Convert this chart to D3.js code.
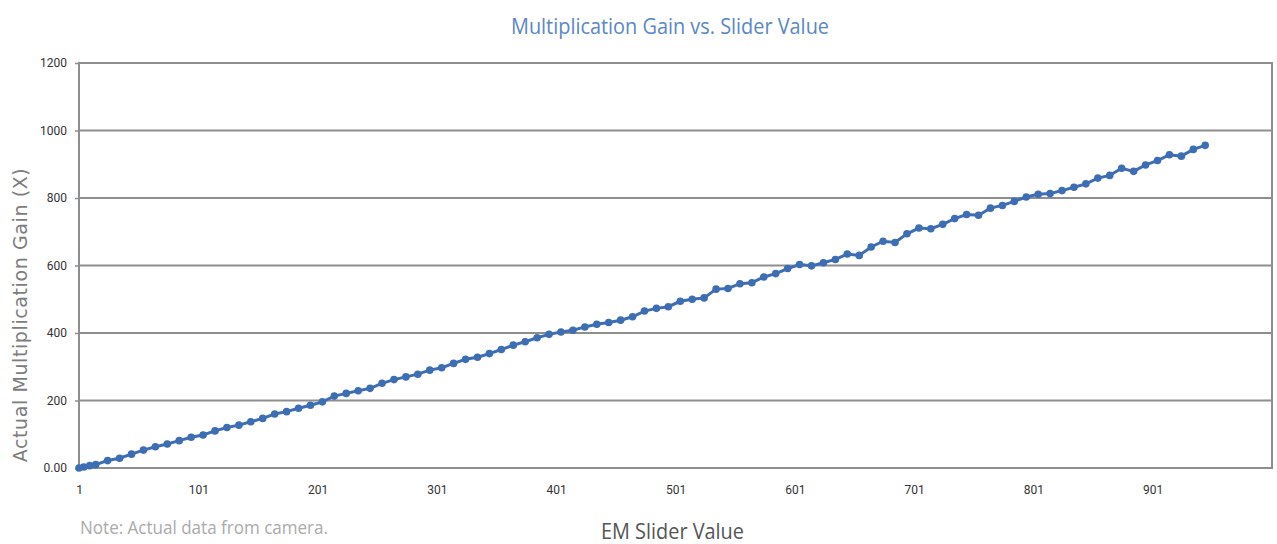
<!DOCTYPE html>
<html>
<head>
<meta charset="utf-8">
<script src="https://cdn.jsdelivr.net/npm/d3@7"></script>
<style>
  body { margin: 0; background: #fff; }
  .grid line { stroke: #8e8e8e; stroke-width: 2; }
  .axis text { font-family: 'Liberation Sans Narrow', 'Roboto', sans-serif; font-size: 12px; fill: #333; }
  .axis path { display: none; }
  .axis line { stroke: #8e8e8e; stroke-width: 1.5; }
</style>
</head>
<body>
<div id="chart"></div>
<script>
// EM slider setting and measured gain
const sliderValues = [1, 5, 10, 15, 25, 35, 45, 55, 65, 75, 85, 95, 105, 115, 125, 135, 145, 155, 165, 175,
  185, 195, 205, 215, 225, 235, 245, 255, 265, 275, 285, 295, 305, 315, 325, 335, 345, 355, 365, 375,
  385, 395, 405, 415, 425, 435, 445, 455, 465, 475, 485, 495, 505, 515, 525, 535, 545, 555, 565, 575,
  585, 595, 605, 615, 625, 635, 645, 655, 665, 675, 685, 695, 705, 715, 725, 735, 745, 755, 765, 775,
  785, 795, 805, 815, 825, 835, 845, 855, 865, 875, 885, 895, 905, 915, 925, 935, 945];
const gainValues = [0, 3, 7, 10, 22, 29, 41, 53, 63, 71, 81, 91, 98, 110, 120, 127, 137, 147, 160, 167,
  177, 186, 196, 213, 221, 229, 236, 251, 262, 270, 278, 290, 297, 310, 322, 328, 339, 351, 364, 374,
  386, 396, 403, 408, 418, 426, 431, 438, 448, 465, 473, 478, 494, 500, 504, 530, 532, 546, 549, 566,
  576, 591, 603, 599, 608, 618, 634, 630, 655, 672, 668, 694, 711, 709, 722, 739, 751, 749, 770, 778,
  790, 803, 811, 813, 822, 832, 842, 859, 867, 888, 879, 898, 911, 928, 924, 944, 956];

const xTicks = [1, 101, 201, 301, 401, 501, 601, 701, 801, 901];
const yTicks = [0, 200, 400, 600, 800, 1000, 1200];

const margin = {top: 63, right: 5, bottom: 76, left: 79},
      width = 1277 - margin.left - margin.right,
      height = 544 - margin.top - margin.bottom;

const data = sliderValues.map((s, i) => ({s, v: gainValues[i]}));

const svg = d3.select('#chart').append('svg')
    .attr('width', 1277)
    .attr('height', 544);

const g = svg.append('g')
    .attr('transform', `translate(${margin.left}, ${margin.top})`);

const x = d3.scaleLinear()
    .domain([1, 1001])
    .range([0, width]);

const y = d3.scaleLinear()
    .domain([0, 1200])
    .range([height, 0]);

// gridlines
g.append('g')
    .attr('class', 'grid')
  .selectAll('line')
  .data(yTicks)
  .enter().append('line')
    .attr('x1', 0)
    .attr('x2', width)
    .attr('y1', d => y(d))
    .attr('y2', d => y(d));

// frame
g.append('rect')
    .attr('width', width)
    .attr('height', height)
    .attr('fill', 'none')
    .attr('stroke', '#8e8e8e')
    .attr('stroke-width', 2);

g.append('g')
    .attr('class', 'axis axis-y')
    .call(d3.axisLeft(y)
        .tickValues(yTicks)
        .tickSize(4)
        .tickPadding(8)
        .tickFormat(d => d === 0 ? '0.00' : d));

g.append('g')
    .attr('class', 'axis axis-x')
    .attr('transform', `translate(0,${height})`)
    .call(d3.axisBottom(x)
        .tickValues(xTicks)
        .tickSize(0)
        .tickPadding(17));

// series line + markers
const line = d3.line()
    .x(d => x(d.s))
    .y(d => y(d.v));

g.append('path')
    .datum(data)
    .attr('fill', 'none')
    .attr('stroke', '#3d6eb4')
    .attr('stroke-width', 3)
    .attr('d', line);

g.append('g')
  .selectAll('circle')
  .data(data)
  .enter().append('circle')
    .attr('cx', d => x(d.s))
    .attr('cy', d => y(d.v))
    .attr('r', 3.8)
    .attr('fill', '#3d6eb4');

// titles (condensed fonts are not installed, so squeeze to the measured width)
svg.append('text')
    .attr('x', 511)
    .attr('y', 34)
    .attr('textLength', 318)
    .attr('lengthAdjust', 'spacingAndGlyphs')
    .style('font-family', "'Open Sans', sans-serif")
    .style('font-size', '22px')
    .attr('fill', '#5a87c3')
    .text('Multiplication Gain vs. Slider Value');

svg.append('text')
    .attr('transform', 'translate(27,315) rotate(-90)')
    .attr('text-anchor', 'middle')
    .style('font-family', "'DejaVu Sans', sans-serif")
    .style('font-size', '19px')
    .style('letter-spacing', '0.6px')
    .attr('fill', '#7d7d7d')
    .text('Actual Multiplication Gain (X)');

svg.append('text')
    .attr('x', 601)
    .attr('y', 539)
    .attr('textLength', 143)
    .attr('lengthAdjust', 'spacingAndGlyphs')
    .style('font-family', "'Open Sans', sans-serif")
    .style('font-size', '22px')
    .attr('fill', '#555')
    .text('EM Slider Value');

svg.append('text')
    .attr('x', 80)
    .attr('y', 534)
    .attr('textLength', 248)
    .attr('lengthAdjust', 'spacingAndGlyphs')
    .style('font-family', "'Open Sans', sans-serif")
    .style('font-size', '19px')
    .attr('fill', '#aaa')
    .text('Note: Actual data from camera.');
</script>
</body>
</html>
